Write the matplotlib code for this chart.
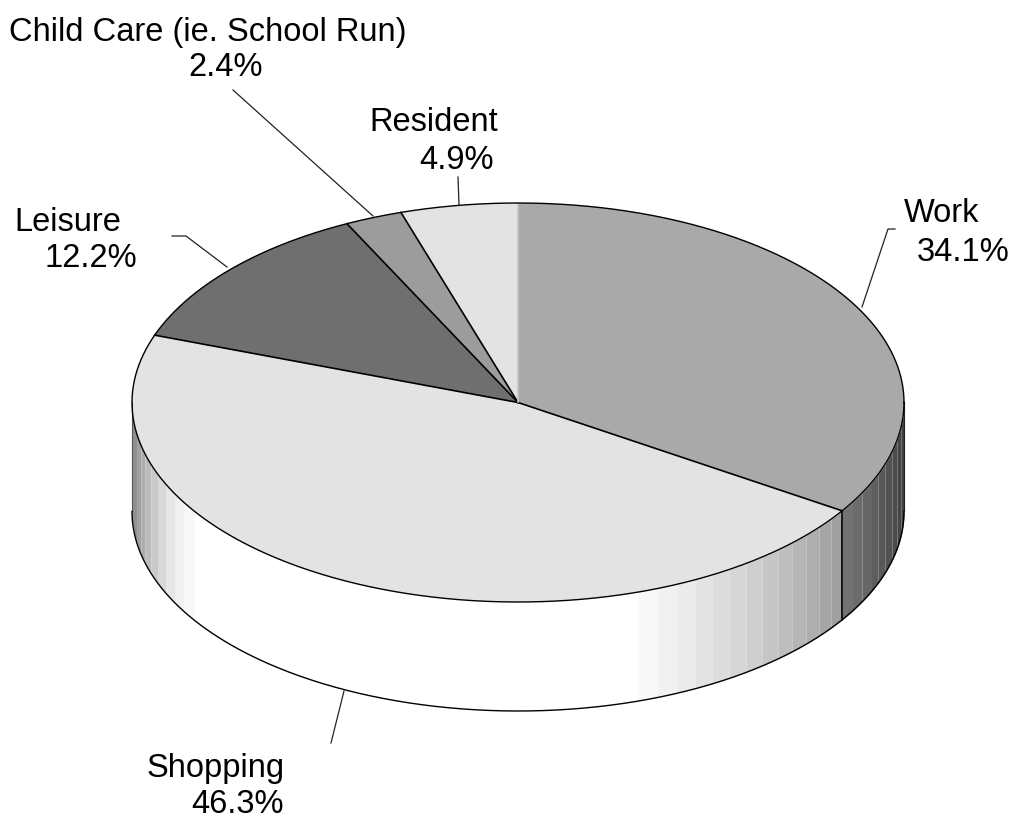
import numpy as np
import matplotlib
matplotlib.use("Agg")
import matplotlib.pyplot as plt

categories = ["Work", "Shopping", "Leisure", "Child Care (ie. School Run)", "Resident"]
values = [34.1, 46.3, 12.2, 2.4, 4.9]
labels = ["34.1%", "46.3%", "12.2%", "2.4%", "4.9%"]
top_colors = ["#a9a9a9", "#e3e3e3", "#6f6f6f", "#9c9c9c", "#e3e3e3"]

right_edges = [518, 638, 658, 677, 695, 712, 729, 746, 762, 778, 792, 806, 819, 831, 842.5]
right_cols = ["#ffffff", "#f8f8f8", "#f1f1f1", "#ebebeb", "#e3e3e3", "#dcdcdc", "#d6d6d6", "#cfcfcf",
              "#c6c6c6", "#bebebe", "#b6b6b6", "#aeaeae", "#a6a6a6", "#a0a0a0"]
work_edges = [842.5, 852.5, 862, 871.5, 878, 885, 892, 897, 901, 904]
work_cols = ["#727272", "#6c6c6c", "#666666", "#5e5e5e", "#585858", "#525252", "#4c4c4c", "#464646", "#404040"]
left_edges = [132, 136.5, 141, 145, 151, 157.5, 166, 175, 184, 195, 518]
left_cols = ["#909090", "#a0a0a0", "#acacac", "#bcbcbc", "#cacaca", "#d8d8d8", "#e6e6e6", "#f0f0f0", "#f9f9f9", "#ffffff"]

W, H = 1013, 818
CX, CY, RX, RY, DEPTH = 518, 402.5, 386, 199.5, 109
fx = lambda p: (np.asarray(p, float) - CX) / RX
fy = lambda p: (CY - np.asarray(p, float)) / RY

fig = plt.figure(figsize=(W / 100, H / 100), dpi=100, facecolor="white")
ax = fig.add_axes([0, 0, 1, 1])
d = DEPTH / RY


def strip(edges, cols):
    for a, b, c in zip(edges[:-1], edges[1:], cols):
        xs = np.linspace(fx(a), min(fx(b), 1.0), 40)
        yt = -np.sqrt(np.clip(1 - xs ** 2, 0, 1))
        ax.fill_between(xs, yt, yt - d, color=c, lw=0, zorder=1, antialiased=False)


strip(right_edges, right_cols)
strip(work_edges, work_cols)
strip(left_edges, left_cols)

wedges, _ = ax.pie(values, colors=top_colors, startangle=90, counterclock=False, radius=1,
                   wedgeprops=dict(linewidth=0, zorder=2))
for w in wedges:
    w.set_zorder(2)

ax.set_aspect("auto")
ax.set_xlim(fx(0), fx(W))
ax.set_ylim(fy(H), fy(0))
ax.axis("off")

# outlines
t = np.linspace(0, 2 * np.pi, 720)
ax.plot(np.cos(t), np.sin(t), color="black", lw=1.0, zorder=4)
t2 = np.linspace(np.pi, 2 * np.pi, 360)
ax.plot(np.cos(t2), np.sin(t2) - d, color="black", lw=1.0, zorder=4)
ax.plot([-1, -1], [0, -d], color="#555555", lw=0.8, zorder=3)
ax.plot([1, 1], [0, -d], color="#222222", lw=0.8, zorder=3)

# slice boundaries
cum = np.cumsum(values) / np.sum(values)
for i, f in enumerate(cum):
    a = np.pi / 2 - 2 * np.pi * f
    top = i == len(cum) - 1
    ax.plot([0, np.cos(a)], [0, np.sin(a)], color="#c4c4c4" if top else "black",
            lw=1.2, zorder=3)
a = np.pi / 2 - 2 * np.pi * cum[0]
ax.plot([np.cos(a)] * 2, [np.sin(a), np.sin(a) - d], color="black", lw=1.2, zorder=3)

# leader lines (pixel positions)
leaders = [
    ([862, 888, 895], [307, 229, 229]),
    ([344, 331], [691, 743]),
    ([227, 186, 172], [267, 236, 236]),
    ([373, 233], [216, 90]),
    ([459, 458], [205, 177]),
]
for xs, ys in leaders:
    ax.plot(fx(xs), fy(ys), color="#222222", lw=0.9, zorder=5)

plt.rcParams["font.family"] = ["Liberation Sans", "DejaVu Sans"]
FS = 23.5
# name anchor and value anchor centres in pixels
text_pos = [
    ((942, 213.5), (963, 252.5)),
    ((216, 768), (237, 804.5)),
    ((68, 222.5), (91, 258.5)),
    ((208, 33), (226, 67.5)),
    ((434, 122.5), (456, 160.5)),
]
for name, lab, (p1, p2) in zip(categories, labels, text_pos):
    ax.text(fx(p1[0]), fy(p1[1]), name, ha="center", va="center", fontsize=FS, color="black",
            zorder=6, family="Liberation Sans")
    ax.text(fx(p2[0]), fy(p2[1]), lab, ha="center", va="center", fontsize=FS, color="black",
            zorder=6, family="Liberation Sans")

fig.savefig("out.png", dpi=100, facecolor="white")
